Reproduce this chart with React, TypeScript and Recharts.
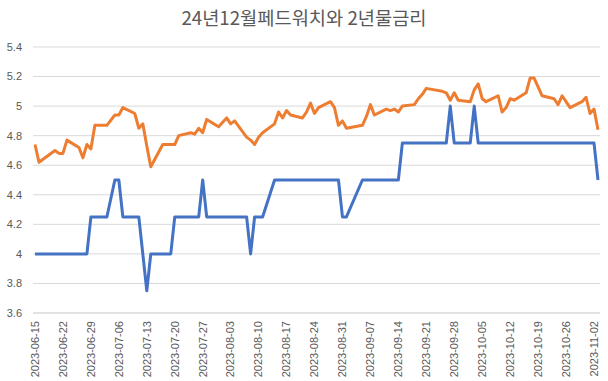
import { LineChart, Line, XAxis, YAxis, CartesianGrid } from 'recharts';

// 거래일 (2023)
const dates = [
  '06-15', '06-16', '06-20', '06-21', '06-22', '06-23', '06-26', '06-27', '06-28', '06-29', '06-30',
  '07-03', '07-05', '07-06', '07-07', '07-10', '07-11', '07-12', '07-13', '07-14',
  '07-17', '07-18', '07-19', '07-20', '07-21', '07-24', '07-25', '07-26', '07-27', '07-28',
  '07-31', '08-01', '08-02', '08-03', '08-04', '08-07', '08-08', '08-09', '08-10', '08-11',
  '08-14', '08-15', '08-16', '08-17', '08-18', '08-21', '08-22', '08-23', '08-24', '08-25',
  '08-28', '08-29', '08-30', '08-31', '09-01', '09-05', '09-06', '09-07', '09-08',
  '09-11', '09-12', '09-13', '09-14', '09-15', '09-18', '09-19', '09-20', '09-21', '09-22',
  '09-25', '09-26', '09-27', '09-28', '09-29', '10-02', '10-03', '10-04', '10-05', '10-06',
  '10-09', '10-10', '10-11', '10-12', '10-13', '10-16', '10-17', '10-18', '10-19', '10-20',
  '10-23', '10-24', '10-25', '10-26', '10-27', '10-30', '10-31', '11-01', '11-02', '11-03',
];

// 24년12월 페드워치 (기대 금리)
const fedWatch = [
  4.0, 4.0, 4.0, 4.0, 4.0, 4.0, 4.0, 4.0, 4.0, 4.25, 4.25,
  4.25, 4.5, 4.5, 4.25, 4.25, 4.25, 4.0, 3.75, 4.0,
  4.0, 4.0, 4.0, 4.25, 4.25, 4.25, 4.25, 4.25, 4.5, 4.25,
  4.25, 4.25, 4.25, 4.25, 4.25, 4.25, 4.0, 4.25, 4.25, 4.25,
  4.5, 4.5, 4.5, 4.5, 4.5, 4.5, 4.5, 4.5, 4.5, 4.5,
  4.5, 4.5, 4.5, 4.25, 4.25, 4.5, 4.5, 4.5, 4.5,
  4.5, 4.5, 4.5, 4.5, 4.75, 4.75, 4.75, 4.75, 4.75, 4.75,
  4.75, 4.75, 5.0, 4.75, 4.75, 4.75, 5.0, 4.75, 4.75, 4.75,
  4.75, 4.75, 4.75, 4.75, 4.75, 4.75, 4.75, 4.75, 4.75, 4.75,
  4.75, 4.75, 4.75, 4.75, 4.75, 4.75, 4.75, 4.75, 4.75, 4.5,
];

// 2년물 금리
const yield2y = [
  4.74, 4.62, 4.70, 4.68, 4.68, 4.77, 4.72, 4.65, 4.74, 4.71, 4.87,
  4.87, 4.94, 4.94, 4.99, 4.95, 4.85, 4.88, 4.73, 4.59,
  4.74, 4.74, 4.74, 4.74, 4.80, 4.82, 4.81, 4.85, 4.82, 4.91,
  4.86, 4.89, 4.92, 4.88, 4.90, 4.79, 4.77, 4.74, 4.79, 4.82,
  4.88, 4.96, 4.92, 4.97, 4.94, 4.92, 4.96, 5.02, 4.95, 4.99,
  5.03, 4.99, 4.87, 4.90, 4.85, 4.87, 4.93, 5.01, 4.94,
  4.98, 4.97, 4.98, 4.96, 5.00, 5.01, 5.05, 5.08, 5.12, 5.115,
  5.10, 5.09, 5.04, 5.09, 5.04, 5.03, 5.11, 5.15, 5.05, 5.03,
  5.07, 4.96, 4.99, 5.05, 5.04, 5.09, 5.19, 5.19, 5.13, 5.07,
  5.05, 5.01, 5.07, 5.03, 4.99, 5.03, 5.06, 4.95, 4.98, 4.84,
];

const tickLabels = [
  '2023-06-15', '2023-06-22', '2023-06-29', '2023-07-06', '2023-07-13', '2023-07-20', '2023-07-27',
  '2023-08-03', '2023-08-10', '2023-08-17', '2023-08-24', '2023-08-31', '2023-09-07', '2023-09-14',
  '2023-09-21', '2023-09-28', '2023-10-05', '2023-10-12', '2023-10-19', '2023-10-26', '2023-11-02',
];

const yTicks = [3.6, 3.8, 4.0, 4.2, 4.4, 4.6, 4.8, 5.0, 5.2, 5.4];

const DAY = 86400000;
const base = Date.parse('2023-06-15T00:00:00Z');
const dayOf = (s: string) => Math.round((Date.parse(s + 'T00:00:00Z') - base) / DAY);

const data = dates.map((d, i) => ({
  day: dayOf('2023-' + d),
  fed: fedWatch[i],
  y2: yield2y[i],
}));
const xTicks = tickLabels.map(dayOf);
const labelOf: Record<number, string> = {};
tickLabels.forEach((l) => (labelOf[dayOf(l)] = l));

const XTick = (props: any) => {
  const { x, y, payload } = props;
  return (
    <text
      x={x}
      y={y}
      dy="0.35em"
      transform={`rotate(-90, ${x}, ${y})`}
      textAnchor="end"
      fill="#595959"
      fontSize={11}
      fontFamily="'Liberation Sans', Arial, sans-serif"
    >
      {labelOf[payload.value]}
    </text>
  );
};

const YTick = (props: any) => {
  const { y, payload } = props;
  return (
    <text
      x={22}
      y={y}
      dy="0.35em"
      textAnchor="end"
      fill="#595959"
      fontSize={11}
      fontFamily="'Liberation Sans', Arial, sans-serif"
    >
      {String(Number(payload.value.toFixed(1)))}
    </text>
  );
};

export default function App() {
  return (
    <div style={{ position: 'absolute', left: 0, top: 0, width: 608, height: 381, background: '#fff' }}>
      <div
        style={{
          position: 'absolute',
          left: 0,
          top: 4,
          width: 608,
          height: 26,
          lineHeight: '26px',
          textAlign: 'center',
          fontSize: 18.7,
          color: '#595959',
          fontFamily: "'Noto Sans CJK KR', 'Noto Sans', sans-serif",
        }}
      >
        24년12월페드워치와 2년물금리
      </div>
      <LineChart width={608} height={381} data={data} margin={{ top: 47, right: 8, bottom: 0, left: 0 }}>
        <CartesianGrid vertical={false} stroke="#d9d9d9" />
        <XAxis
          dataKey="day"
          type="number"
          domain={[-0.5, 141.5]}
          ticks={xTicks}
          interval={0}
          height={68}
          tickLine={false}
          axisLine={{ stroke: '#d9d9d9' }}
          tick={<XTick />}
        />
        <YAxis
          type="number"
          domain={[3.6, 5.4]}
          ticks={yTicks}
          width={33}
          axisLine={false}
          tickLine={false}
          tick={<YTick />}
        />
        <Line
          type="linear"
          dataKey="fed"
          stroke="#4472C4"
          strokeWidth={3}
          dot={false}
          strokeLinejoin="round"
          isAnimationActive={false}
        />
        <Line
          type="linear"
          dataKey="y2"
          stroke="#ED7D31"
          strokeWidth={3}
          dot={false}
          strokeLinejoin="round"
          isAnimationActive={false}
        />
      </LineChart>
    </div>
  );
}
